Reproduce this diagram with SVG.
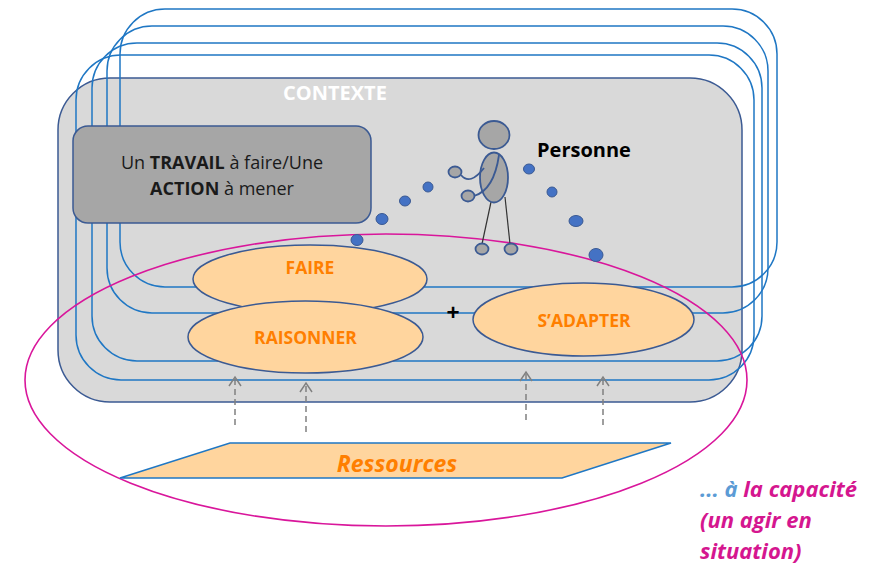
<svg xmlns="http://www.w3.org/2000/svg" width="881" height="566" viewBox="0 0 881 566">
<style>
.ctx{fill:#D9D9D9;stroke:#3B5A93;stroke-width:1.5}
.frame{fill:none;stroke:#1F77C4;stroke-width:1.5}
.task{fill:#A6A6A6;stroke:#3B5A93;stroke-width:1.5}
.act{fill:#FFD59E;stroke:#3B5A93;stroke-width:1.5}
.dot{fill:#4472C4;stroke:#3B5A93;stroke-width:1}
.body{fill:#A6A6A6;stroke:#3B5A93;stroke-width:1.8}
.arm{fill:none;stroke:#3B5A93;stroke-width:1.8}
.leg{stroke:#333;stroke-width:1.2}
.cap{fill:none;stroke:#D9169B;stroke-width:1.6}
.dash{fill:none;stroke:#808080;stroke-width:1.5;stroke-dasharray:6 4}
.head{fill:none;stroke:#808080;stroke-width:1.5}
.res{fill:#FFD59E;stroke:#1F77C4;stroke-width:1.5}
text{font-family:"Open Sans","Liberation Sans",sans-serif}
.lbl{font-size:17.5px;font-weight:bold;fill:#FF7F00;text-anchor:middle}
.leg-t{font-size:22px;font-weight:bold;font-style:italic;fill:#D5168F}
</style>

<g id="contexte">
<rect class="ctx" x="58" y="78" width="684" height="324" rx="52"/>
<text x="335" y="100" font-size="20" font-weight="bold" fill="#FFFFFF" text-anchor="middle">CONTEXTE</text>
</g>

<g id="frames">
<rect class="frame" x="120" y="9" width="657" height="278" rx="45"/>
<rect class="frame" x="107" y="26" width="661" height="287" rx="45"/>
<rect class="frame" x="92" y="43" width="670" height="318" rx="45"/>
<rect class="frame" x="76" y="55" width="678" height="325" rx="45"/>
</g>

<g id="travail">
<rect class="task" x="73" y="126" width="298" height="97" rx="15"/>
<text x="222" y="169" font-size="18" fill="#1A1A1A" text-anchor="middle">Un <tspan font-weight="bold">TRAVAIL</tspan> à faire/Une</text>
<text x="222" y="195" font-size="18" fill="#1A1A1A" text-anchor="middle"><tspan font-weight="bold">ACTION</tspan> à mener</text>
</g>

<g id="faire">
<ellipse class="act" cx="310" cy="279" rx="117" ry="34"/>
<text class="lbl" x="310" y="274">FAIRE</text>
</g>

<g id="raisonner">
<ellipse class="act" cx="305.5" cy="337" rx="117.5" ry="36"/>
<text class="lbl" x="305.5" y="344">RAISONNER</text>
</g>

<g id="sadapter">
<ellipse class="act" cx="583.5" cy="319.5" rx="110.5" ry="36.5"/>
<text class="lbl" x="584" y="327">S’ADAPTER</text>
</g>

<g id="plus">
<text x="453" y="321" font-size="23" font-weight="bold" fill="#000" text-anchor="middle">+</text>
</g>

<g id="capacite">
<ellipse class="cap" cx="386" cy="380" rx="361" ry="146"/>
</g>

<g id="ressources">
<polygon class="res" points="230,443 671,443 562,478 120,478"/>
<text x="397" y="472" font-size="23" font-weight="bold" font-style="italic" fill="#FF7F00" text-anchor="middle">Ressources</text>
</g>

<g id="connectors">
<line class="dash" x1="235" y1="425" x2="235" y2="379"/>
<polyline class="head" points="229,386 235,377 241,386"/>
<line class="dash" x1="306" y1="432" x2="306" y2="385"/>
<polyline class="head" points="300,392 306,383 312,392"/>
<line class="dash" x1="526" y1="420" x2="526" y2="374"/>
<polyline class="head" points="520,381 526,372 532,381"/>
<line class="dash" x1="603" y1="425" x2="603" y2="379"/>
<polyline class="head" points="597,386 603,377 609,386"/>
</g>

<g id="trajectoire">
<ellipse class="dot" cx="357" cy="240" rx="6" ry="5.5"/>
<ellipse class="dot" cx="382" cy="219" rx="6" ry="5.5"/>
<ellipse class="dot" cx="405" cy="201" rx="5.5" ry="5"/>
<ellipse class="dot" cx="428" cy="187" rx="5" ry="5"/>
<ellipse class="dot" cx="529" cy="169" rx="5.5" ry="5"/>
<ellipse class="dot" cx="552" cy="192" rx="5" ry="5"/>
<ellipse class="dot" cx="576" cy="221" rx="7" ry="5.5"/>
<ellipse class="dot" cx="596" cy="255" rx="7" ry="6.5"/>
</g>

<g id="personne">
<line class="leg" x1="491" y1="202" x2="482" y2="244"/>
<line class="leg" x1="505" y1="197" x2="510" y2="244"/>
<ellipse class="body" cx="494" cy="135" rx="15.5" ry="14"/>
<ellipse class="body" cx="494" cy="177.5" rx="14" ry="25"/>
<path class="arm" d="M461,175 Q470,186 484,168"/>
<path class="arm" d="M499,155 Q494,190 474,196"/>
<ellipse class="body" cx="455" cy="172" rx="6.5" ry="5.5"/>
<ellipse class="body" cx="468" cy="196" rx="6.5" ry="5.5"/>
<ellipse class="body" cx="482" cy="249" rx="6.5" ry="5.5"/>
<ellipse class="body" cx="511" cy="249" rx="6.5" ry="5.5"/>
<text x="537" y="157" font-size="20" font-weight="bold" fill="#000">Personne</text>
</g>

<g id="legende">
<text class="leg-t" x="700" y="497"><tspan fill="#5B9BD5">... à</tspan> la capacité</text>
<text class="leg-t" x="700" y="528">(un agir en</text>
<text class="leg-t" x="700" y="559">situation)</text>
</g>
</svg>
